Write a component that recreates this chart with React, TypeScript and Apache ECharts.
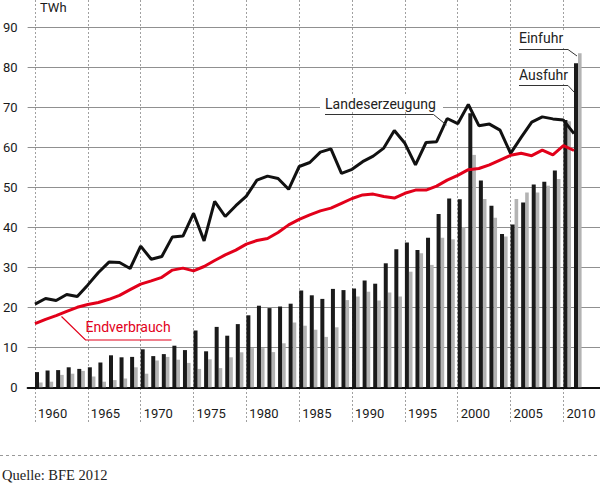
import React, { useEffect, useRef } from "react";
import * as echarts from "echarts";

const years = [
  "1960", "1961", "1962", "1963", "1964", "1965", "1966", "1967", "1968", "1969",
  "1970", "1971", "1972", "1973", "1974", "1975", "1976", "1977", "1978", "1979",
  "1980", "1981", "1982", "1983", "1984", "1985", "1986", "1987", "1988", "1989",
  "1990", "1991", "1992", "1993", "1994", "1995", "1996", "1997", "1998", "1999",
  "2000", "2001", "2002", "2003", "2004", "2005", "2006", "2007", "2008", "2009",
  "2010", "2011",
];

// Ausfuhr (black bars), TWh
const ausfuhr = [
  3.8, 4.2, 4.3, 5.0, 4.6, 5.0, 6.2, 8.0, 7.5, 7.6,
  9.5, 7.8, 8.3, 10.4, 9.3, 14.2, 9.0, 15.1, 12.9, 15.8,
  18.0, 20.4, 19.8, 20.2, 20.9, 24.2, 23.0, 22.1, 24.6, 24.3,
  24.7, 26.7, 25.9, 31.0, 34.5, 36.2, 34.3, 37.4, 43.3, 47.2,
  47.0, 68.5, 51.7, 45.4, 38.3, 40.7, 46.2, 50.7, 51.4, 54.2,
  66.8, 81.0,
];

// Einfuhr (grey bars), TWh
const einfuhr = [
  1.2, 1.4, 3.1, 3.4, 4.1, 2.7, 1.4, 1.8, 2.2, 5.0,
  3.4, 6.7, 7.6, 6.9, 6.1, 4.6, 7.0, 4.8, 7.5, 8.75,
  9.8, 9.8, 8.8, 11.0, 16.2, 15.4, 14.4, 12.6, 15.0, 21.8,
  22.7, 23.9, 21.7, 23.7, 22.7, 28.9, 33.5, 30.6, 37.4, 37.0,
  40.0, 58.1, 47.1, 42.4, 37.7, 47.1, 48.7, 48.7, 50.4, 52.1,
  66.5, 83.5,
];

// Landeserzeugung (black line), TWh
const landeserzeugung = [
  20.8, 22.2, 21.7, 23.2, 22.7, 25.6, 28.7, 31.3, 31.2, 29.7,
  35.3, 32.0, 32.7, 37.6, 37.8, 43.5, 36.6, 46.5, 42.7, 45.4,
  47.8, 51.8, 52.8, 52.2, 49.5, 55.2, 56.2, 58.8, 59.6, 53.5,
  54.5, 56.4, 57.8, 59.8, 64.2, 61.0, 55.6, 61.2, 61.4, 67.2,
  65.9, 70.7, 65.4, 65.8, 64.3, 58.5, 62.5, 66.3, 67.6, 67.1,
  66.8, 63.4,
];

// Endverbrauch (red line), TWh
const endverbrauch = [
  15.9, 17.0, 17.9, 19.0, 20.0, 20.7, 21.2, 22.0, 23.0, 24.4,
  25.8, 26.6, 27.5, 29.3, 29.8, 29.1, 30.2, 31.7, 33.1, 34.3,
  35.8, 36.7, 37.2, 38.7, 40.6, 42.0, 43.1, 44.1, 44.8, 46.0,
  47.2, 48.1, 48.3, 47.7, 47.3, 48.5, 49.3, 49.3, 50.3, 51.8,
  53.0, 54.4, 54.7, 55.6, 56.8, 58.0, 58.5, 57.9, 59.3, 58.1,
  60.4, 59.2,
];

const yTicks = { min: 0, max: 90, step: 10 };

const FONT = 'Roboto, "Noto Sans", "DejaVu Sans", sans-serif';
const BLACK = "#1a1a1a";
const GREY = "#b3b3b3";
const RED = "#e2001a";

export default function App() {
  const ref = useRef<HTMLDivElement>(null);

  useEffect(() => {
    if (!ref.current) return;
    const chart = echarts.init(ref.current, null, { renderer: "svg" });

    const isFive = (_i: number, v: string) => Number(v) % 5 === 0;

    const renderBars = (_params: any, api: any) => {
      const k = api.value(0);
      const base = api.coord([k, 0]);
      const pe = api.coord([k, api.value(1)]);
      const pi = api.coord([k, api.value(2)]);
      return {
        type: "group",
        children: [
          {
            type: "rect",
            shape: { x: base[0] + 4, y: pi[1], width: 3.6, height: base[1] - pi[1] },
            style: { fill: GREY },
          },
          {
            type: "rect",
            shape: { x: base[0], y: pe[1], width: 4, height: base[1] - pe[1] },
            style: { fill: BLACK },
          },
        ],
      };
    };

    const option: any = {
      animation: false,
      grid: [
        { left: 25, right: 0, top: 27.3, bottom: 95.7 },
        { left: 35, right: 26, top: 0, bottom: 60 },
      ],
      xAxis: [
        {
          gridIndex: 0,
          type: "value",
          min: 0,
          max: 1,
          axisLabel: { show: false },
          axisTick: { show: false },
          splitLine: { show: false },
          axisLine: { show: true, onZero: false, lineStyle: { color: "#111", width: 2 } },
        },
        {
          gridIndex: 1,
          type: "category",
          data: years,
          boundaryGap: false,
          axisLine: { show: false },
          axisTick: { show: false },
          axisLabel: {
            interval: isFive,
            inside: true,
            margin: 9.5,
            verticalAlign: "middle",
            align: "left",
            padding: [0, 0, 0, 3],
            fontSize: 13,
            color: BLACK,
            fontFamily: FONT,
          },
          splitLine: {
            show: true,
            interval: isFive,
            lineStyle: { color: "#a0a0a0", type: [2, 2], width: 1 },
          },
        },
      ],
      yAxis: [
        {
          gridIndex: 0,
          type: "value",
          min: yTicks.min,
          max: yTicks.max,
          interval: yTicks.step,
          axisLine: { show: false },
          axisTick: { show: false },
          axisLabel: { margin: 10, fontSize: 13, color: BLACK, fontFamily: FONT },
          splitLine: { show: true, lineStyle: { color: "#909090", width: 1 } },
        },
        {
          gridIndex: 1,
          type: "value",
          min: -8.925,
          max: 96.825,
          show: false,
          splitLine: { show: false },
        },
      ],
      series: [
        {
          name: "Aus-/Einfuhr",
          type: "custom",
          xAxisIndex: 1,
          yAxisIndex: 1,
          encode: { x: 0, y: [1, 2] },
          data: years.map((_y, i) => [i, ausfuhr[i], einfuhr[i]]),
          renderItem: renderBars,
          z: 2,
        },
        {
          name: "Landeserzeugung",
          type: "line",
          xAxisIndex: 1,
          yAxisIndex: 1,
          data: landeserzeugung,
          symbol: "none",
          lineStyle: { color: "#111", width: 3 },
          z: 3,
        },
        {
          name: "Endverbrauch",
          type: "line",
          xAxisIndex: 1,
          yAxisIndex: 1,
          data: endverbrauch,
          symbol: "none",
          lineStyle: { color: RED, width: 3 },
          z: 3,
        },
      ],
      graphic: [
        {
          type: "text",
          z: 50,
          style: { text: "TWh", x: 40, y: 7.5, verticalAlign: "middle", font: `13px ${FONT}`, fill: BLACK },
        },
        // Landeserzeugung label
        {
          type: "rect",
          z: 40,
          shape: { x: 320, y: 96, width: 123, height: 16 },
          style: { fill: "#fff" },
        },
        {
          type: "text",
          z: 50,
          style: { text: "Landeserzeugung", x: 325, y: 104, verticalAlign: "middle", font: `14px ${FONT}`, fill: "#222" },
        },
        {
          type: "polyline",
          z: 50,
          shape: { points: [[325, 114.5], [433.5, 114.5], [446.5, 125]] },
          style: { stroke: "#333", lineWidth: 1, fill: "none" },
        },
        // Einfuhr label
        {
          type: "rect",
          z: 40,
          shape: { x: 516, y: 30, width: 54, height: 16 },
          style: { fill: "#fff" },
        },
        {
          type: "text",
          z: 50,
          style: { text: "Einfuhr", x: 519, y: 38.3, verticalAlign: "middle", font: `14px ${FONT}`, fill: "#222" },
        },
        {
          type: "polyline",
          z: 50,
          shape: { points: [[519, 49.5], [568, 49.5], [577, 56]] },
          style: { stroke: "#333", lineWidth: 1, fill: "none" },
        },
        // Ausfuhr label
        {
          type: "rect",
          z: 40,
          shape: { x: 516, y: 68.5, width: 54, height: 14 },
          style: { fill: "#fff" },
        },
        {
          type: "text",
          z: 50,
          style: { text: "Ausfuhr", x: 519, y: 74.8, verticalAlign: "middle", font: `14px ${FONT}`, fill: "#222" },
        },
        {
          type: "polyline",
          z: 50,
          shape: { points: [[519, 85.5], [568, 85.5], [574, 92]] },
          style: { stroke: "#333", lineWidth: 1, fill: "none" },
        },
        // Endverbrauch label
        {
          type: "text",
          z: 50,
          style: { text: "Endverbrauch", x: 85.5, y: 327.3, verticalAlign: "middle", font: `14px ${FONT}`, fill: RED },
        },
        {
          type: "polyline",
          z: 50,
          shape: { points: [[61.5, 316.5], [85.5, 340], [171.5, 340]] },
          style: { stroke: RED, lineWidth: 1.2, fill: "none" },
        },
        // separator and source
        {
          type: "line",
          z: 50,
          shape: { x1: 0, y1: 455.5, x2: 600, y2: 455.5 },
          style: { stroke: "#999", lineWidth: 1, lineDash: [3, 3] },
        },
        {
          type: "text",
          z: 50,
          style: {
            text: "Quelle: BFE 2012",
            x: 2,
            y: 475,
            verticalAlign: "middle",
            font: `14.5px "Liberation Serif", "DejaVu Serif", serif`,
            fill: "#222",
          },
        },
      ],
    };

    chart.setOption(option);
    return () => chart.dispose();
  }, []);

  return (
    <div
      ref={ref}
      style={{ position: "fixed", left: 0, top: 0, width: 600, height: 483, background: "#fff" }}
    />
  );
}
